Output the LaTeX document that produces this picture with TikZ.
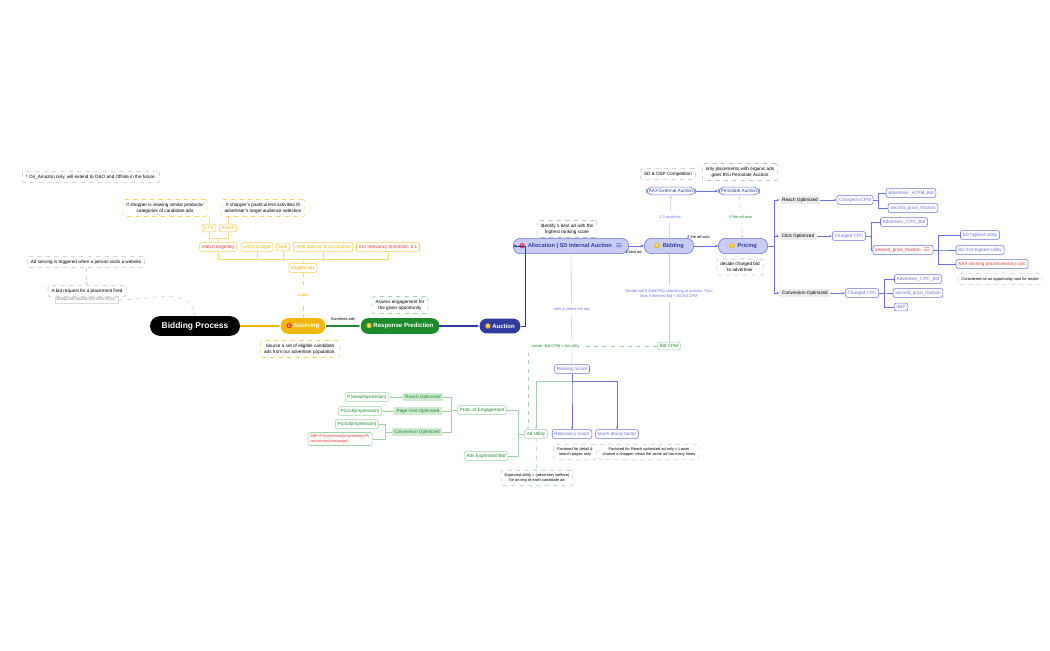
\documentclass[tikz,border=0pt]{standalone}
\usepackage{fontspec}
\setmainfont{Liberation Sans}
\usepackage{tikz}
\usetikzlibrary{arrows.meta,positioning}

\definecolor{orng}{HTML}{F2B705}
\definecolor{grn}{HTML}{1E8A2B}
\definecolor{lgrn}{HTML}{9FD3A5}
\definecolor{navy}{HTML}{2F3C9E}
\definecolor{blu}{HTML}{6A73E0}
\definecolor{lblu}{HTML}{C9CCF5}
\definecolor{redt}{HTML}{E53935}

\newcommand{\numdot}[2]{\tikz[baseline=-0.7ex]\node[circle,draw=none,fill=#1,text=white,inner sep=0.4pt,minimum width=0pt,minimum height=0pt,font=\fontsize{3}{3}\selectfont]{#2};}

\tikzset{
  tiny/.style={font=\fontsize{3.3}{4}\selectfont},
  box/.style={tiny,draw,rounded corners=1.5pt,inner sep=1.6pt,align=center,fill=white},
  note/.style={box,dashed,draw=gray!50,inner sep=2.5pt},
  onote/.style={note,draw=orng!60},
  gnote/.style={note,draw=lgrn},
  bnote/.style={note,draw=lblu},
  obox/.style={box,draw=orng!70,text=orng},
  rbox/.style={box,draw=orng!70,text=redt},
  gbox/.style={box,draw=lgrn,text=grn},
  bbox/.style={box,draw=blu,text=blu},
  lab/.style={tiny,fill=gray!15,inner sep=1.6pt},
  glab/.style={tiny,fill=lgrn!50,text=grn,inner sep=1.6pt},
  main/.style={font=\fontsize{4.3}{5}\selectfont\bfseries,rounded corners=5pt,minimum height=10pt,text=white,inner xsep=4pt},
  phase/.style={font=\fontsize{4}{5}\selectfont\bfseries,rounded corners=5pt,minimum height=10pt,draw=blu,fill=lblu,text=navy,inner xsep=4pt},
  elab/.style={font=\fontsize{2.8}{3.4}\selectfont,align=center}
}

\begin{document}
\begin{tikzpicture}[x=0.025cm,y=-0.025cm]
\useasboundingbox (0,0) rectangle (1050,650);

% sourcing side
\node[note] (amz) at (91,177) {* On\_Amazon only, will extend to O\&O and Offsite in the future.};
\node[onote] (sim) at (165,208) {If shopper is viewing similar products/\\categories of candidate ads};
\node[onote] (aud) at (263,208) {If shopper's past/current activities fit\\advertiser's target audience selection};
\node[obox] (ctx) at (209,228) {CTX};
\node[obox] (audt) at (228,228) {AUDT};
\node[rbox] (match) at (218,247) {match targeting};
\node[obox] (budget) at (257,247) {within budget};
\node[obox] (safe) at (283,247) {safe};
\node[obox] (policy) at (323,247) {meet policies \& constraints};
\node[rbox] (minrel) at (388,247) {min relevancy threshold: 0.1};
\node[obox] (elig) at (303,268) {Eligible ads};

\node[note] (serve) at (86,262) {Ad serving is triggered when a person visits a website};
\node[note] (req) at (87,291) {A bid request for a placement fired};
\node[text=gray,font=\fontsize{2.4}{3}\selectfont,draw=gray!30,inner sep=1pt] (reqsub) at (87,300) {Multiple bid requests fired when the pa...};

\node[main,fill=black,rounded corners=7pt,minimum height=14pt,minimum width=64pt,font=\fontsize{6}{7}\selectfont\bfseries] (root) at (195,326) {Bidding Process};
\node[main,fill=orng] (src) at (303,326) {\numdot{redt}{1}\ Sourcing};
\node[onote] (srcn) at (300,349) {Source a set of eligible candidate\\ads from our advertiser population.};
\node[main,fill=grn] (resp) at (400,326) {\numdot{orng}{2}\ Response Prediction};
\node[gnote] (assess) at (400,305) {Assess engagement for\\the given opportunity};
\node[main,fill=navy] (auc) at (500,326) {\numdot{orng}{3}\ Auction};

% auction side
\node[phase,minimum width=82pt] (alloc) at (571,246) {\numdot{redt}{1}\ \ Allocation | SD Internal Auction\ \ $\equiv$};
\node[note] (ident) at (567,229) {Identify 1 best ad with the\\highest ranking score};
\node[phase,minimum width=35pt] (bid) at (669,246) {\numdot{orng}{2}\ \ Bidding};
\node[phase,minimum width=35pt] (price) at (743,246) {\numdot{orng!90!yellow}{3}\ \ Pricing};
\node[box,draw=blu,text=navy,rounded corners=4pt] (aax) at (671,191) {AAX External Auction};
\node[note] (dsp) at (668,174) {SD \& DSP Competition};
\node[box,draw=blu,text=navy,rounded corners=4pt] (perc) at (739,191) {Percolate Auction};
\node[note] (org) at (740,172) {only placements with organic ads\\goes thru Percolate Auction};
\node[note] (dec) at (740,267) {decide charged bid\\to advertiser};
\node[gbox] (bcpm) at (669,346) {Bid CPM};
\node[bbox] (rank) at (572,369) {Ranking Score};
\node[gbox] (util) at (536,434) {Ad Utility};
\node[bbox] (relev) at (572,434) {Relevancy Score};
\node[bbox] (decay) at (617,434) {reach decay factor};
\node[bnote,font=\fontsize{2.8}{3.4}\selectfont] (reln) at (575,452) {Factored for detail \&\\search pages only};
\node[bnote,font=\fontsize{2.8}{3.4}\selectfont] (decn) at (649,452) {Factored for Reach optimized ad only = Lower\\chance a shopper views the same ad too many times};
\node[gnote,font=\fontsize{2.8}{3.4}\selectfont] (expu) at (537,478) {Expected utility = (advertiser welfare)\\for an imp of each candidate ad};
\node[gbox] (prob) at (482,410) {Prob. of Engagement};
\node[gbox] (advb) at (486,456) {Adv Expressed Bid};
\node[glab] (gro) at (423,397) {Reach Optimized};
\node[glab] (gpv) at (418,411) {Page Visit Optimized};
\node[glab] (gco) at (417,432) {Conversion Optimized};
\node[gbox] (pv) at (367,397) {P(view|impression)};
\node[gbox] (pc1) at (360,411) {P(click|impression)};
\node[gbox] (pc2) at (357,424) {P(click|impression)};
\node[gbox,text=redt,align=left,font=\fontsize{2.8}{3.4}\selectfont] (sbp) at (340,439) {SBP×P(conversion|impression)/P(\\conversion|campaign)};

% pricing side
\node[lab] (ro) at (800,200) {Reach Optimized};
\node[lab] (co) at (798,236) {Click Optimized};
\node[lab] (cvo) at (805,293) {Conversion Optimized};
\node[bbox] (cv) at (855,200) {Charged vCPM};
\node[bbox] (cc1) at (849,236) {Charged CPC};
\node[bbox] (cc2) at (862,293) {Charged CPC};
\node[bbox] (avb) at (911,193) {Advertiser\_vCPM\_Bid};
\node[bbox] (spf1) at (913,208) {second\_price\_fraction};
\node[bbox] (acb1) at (904,222) {Advertiser\_CPC\_Bid};
\node[bbox,text=redt] (spf2) at (903,250) {second\_price\_fraction\ \ $\equiv$};
\node[bbox] (sdh) at (980,235) {SD highest utility};
\node[bbox] (sd2) at (980,250) {SD 2nd highest utility};
\node[bbox,text=redt] (aaxw) at (992,264) {AAX winning price/inventory cost};
\node[bnote,text=black,font=\fontsize{2.8}{3.4}\selectfont] (opp) at (1000,279) {Considered as an opportunity cost for onsite};
\node[bbox] (acb2) at (918,279) {Advertiser\_CPC\_Bid};
\node[bbox] (spf3) at (918,293) {second\_price\_fraction};
\node[bbox] (sbp2) at (901,307) {SBP};

% main flow
\path[-{Stealth[length=2.5pt]},line width=0.8pt]
  (root) edge[draw=orng] (src)
  (src) edge[draw=grn] node[elab,above] {hundreds ads} (resp)
  (resp) edge[draw=navy] (auc);
\draw[-{Stealth[length=2.5pt]},line width=0.6pt,navy] (auc.east) -- ++(5,0) |- (alloc.west);
\path[-{Stealth[length=2.5pt]},line width=0.5pt,draw=blu]
  (alloc) edge node[elab,below,pos=0.3] {1 best ad} (bid)
  (bid) edge node[elab,above,pos=0.2,yshift=2pt] {if the ad won} (price)
  (aax) edge (perc);
\draw[blu!40,-{Stealth[length=2pt]}] (bid) -- node[elab,fill=white,text=blu] {1-2 auctions} (aax);
\draw[blu!40,dashed,-{Stealth[length=2pt]}] (perc) -- node[elab,fill=white,text=grn] {if the ad won} (price);
\draw[blu!40] (bcpm) -- node[elab,fill=white,text=blu,pos=0.55] {Decide bid \$ (bidCPM) submitting to auction. Punt\\bids if the best bid < \$0.001CPM} (bid);
\draw[blu!40] (alloc) -- node[elab,fill=white,text=blu,pos=0.5] {rank \& select the top} (rank);
\draw[lgrn,dashed,-{Stealth[length=2pt]}] (bcpm.west) -- (528,346) node[elab,text=grn,fill=white,right=-1pt] {onsite: Bid CPM × Ad utility} -- (util.north -| 528,0);
\draw[gray!40,dashed,-{Stealth[length=2pt]}] (reqsub.east) to[out=0,in=100] (root.north);
\draw[gray!50,dashed,-{Stealth[length=2pt]}] (serve) -- (req);
\draw[orng!60,dashed] (elig) -- node[elab,fill=white,text=orng] {output} (src);
\draw[lgrn,dashed] (util) -- (expu);

% trees
\foreach \c in {match,budget,safe,policy,minrel}
  \draw[orng!50] (elig.north) -- ++(0,-4) -| (\c.south);
\foreach \c in {ctx,audt} \draw[orng!50] (match.north) -- ++(0,-4) -| (\c.south);
\draw[orng!50] (ctx) -- (ctx|-sim.south);
\draw[orng!50] (audt) -- (audt|-aud.south);
\draw[lgrn,-{Stealth[length=2pt]}] (rank.south) -- ++(0,8) -| (util.north);
\foreach \c in {relev,decay}
  \draw[blu,-{Stealth[length=2pt]}] (rank.south) -- ++(0,8) -| (\c.north);
\foreach \c in {prob,advb} \draw[lgrn] (util.west) -- ++(-6,0) |- (\c.east);
\foreach \c in {gro,gpv,gco} \draw[lgrn] (prob.west) -- ++(-6,0) |- (\c.east);
\draw[lgrn,-{Stealth[length=2pt]}] (gro) -- (pv);
\draw[lgrn,-{Stealth[length=2pt]}] (gpv) -- (pc1);
\foreach \c in {pc2,sbp} \draw[lgrn] (gco.west) -- ++(-6,0) |- (\c.east);
\foreach \c in {ro,co,cvo} \draw[blu,-{Stealth[length=2pt]}] (price.east) -- ++(6,0) |- (\c.west);
\path[blu,-{Stealth[length=2pt]}] (ro) edge (cv) (co) edge (cc1) (cvo) edge (cc2);
\foreach \c in {avb,spf1} \draw[blu] (cv.east) -- ++(5,0) |- (\c.west);
\foreach \c in {acb1,spf2} \draw[blu] (cc1.east) -- ++(5,0) |- (\c.west);
\foreach \c in {sdh,sd2,aaxw} \draw[blu] (spf2.east) -- ++(5,0) |- (\c.west);
\foreach \c in {acb2,spf3,sbp2} \draw[blu] (cc2.east) -- ++(5,0) |- (\c.west);
\end{tikzpicture}
\end{document}
